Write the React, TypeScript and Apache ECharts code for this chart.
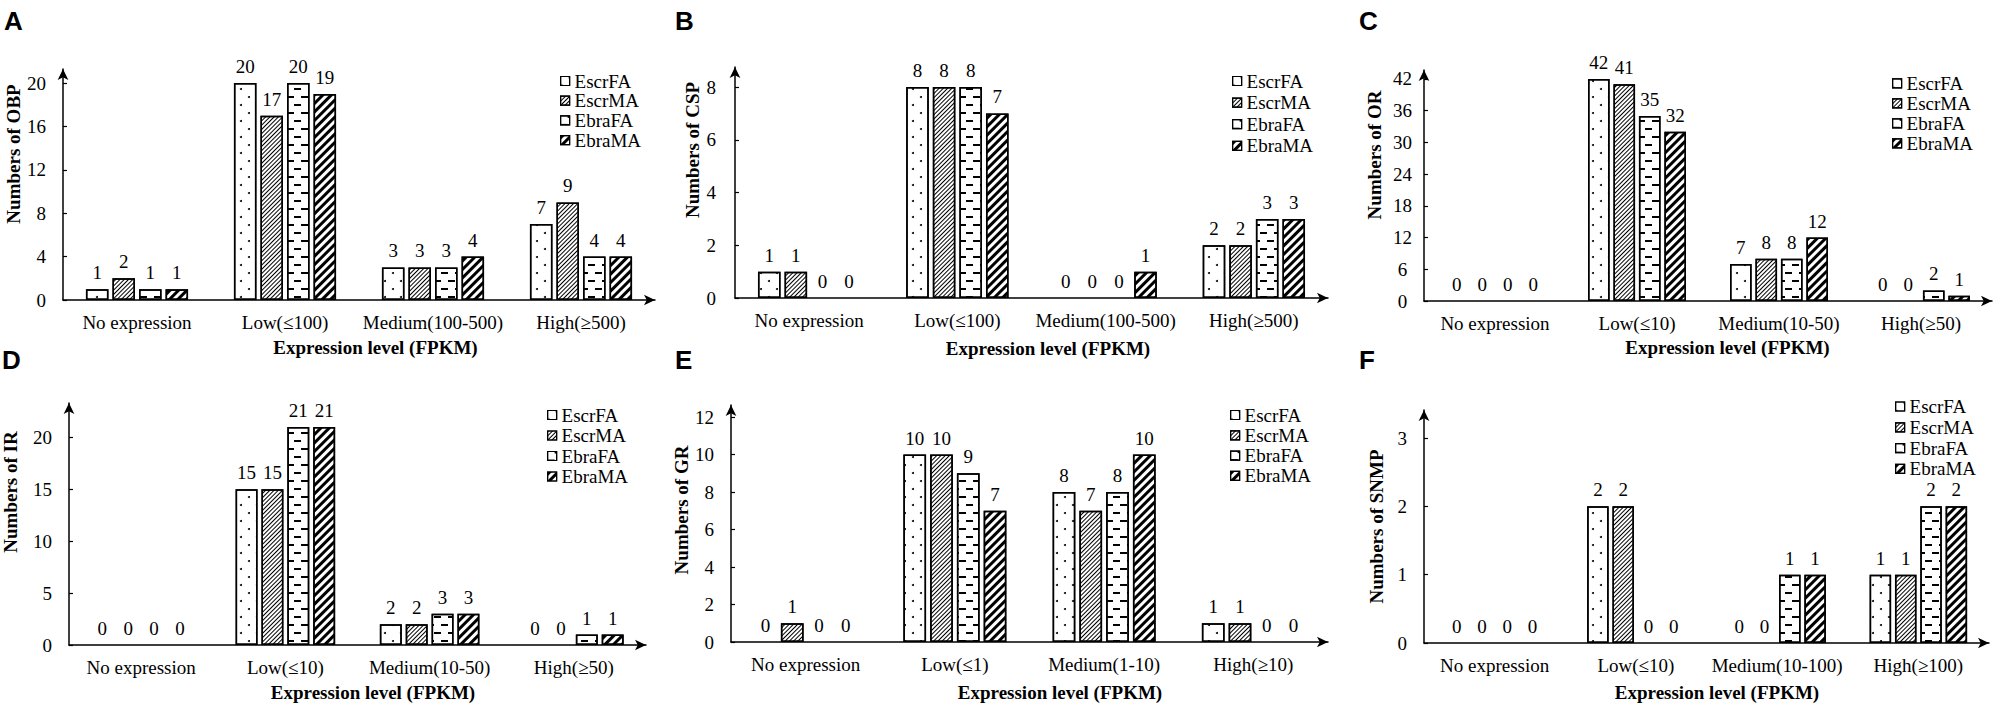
import React, { useEffect, useRef } from "react";
import * as echarts from "echarts";

// ---------- data ----------
const seriesNames = ["EscrFA", "EscrMA", "EbraFA", "EbraMA"];

const categoriesOBP = ["No expression", "Low(≤100)", "Medium(100-500)", "High(≥500)"];
const categoriesCSP = ["No expression", "Low(≤100)", "Medium(100-500)", "High(≥500)"];
const categoriesOR = ["No expression", "Low(≤10)", "Medium(10-50)", "High(≥50)"];
const categoriesIR = ["No expression", "Low(≤10)", "Medium(10-50)", "High(≥50)"];
const categoriesGR = ["No expression", "Low(≤1)", "Medium(1-10)", "High(≥10)"];
const categoriesSNMP = ["No expression", "Low(≤10)", "Medium(10-100)", "High(≥100)"];

const obpEscrFA = [1, 20, 3, 7];
const obpEscrMA = [2, 17, 3, 9];
const obpEbraFA = [1, 20, 3, 4];
const obpEbraMA = [1, 19, 4, 4];

const cspEscrFA = [1, 8, 0, 2];
const cspEscrMA = [1, 8, 0, 2];
const cspEbraFA = [0, 8, 0, 3];
const cspEbraMA = [0, 7, 1, 3];

const orEscrFA = [0, 42, 7, 0];
const orEscrMA = [0, 41, 8, 0];
const orEbraFA = [0, 35, 8, 2];
const orEbraMA = [0, 32, 12, 1];

const irEscrFA = [0, 15, 2, 0];
const irEscrMA = [0, 15, 2, 0];
const irEbraFA = [0, 21, 3, 1];
const irEbraMA = [0, 21, 3, 1];

const grEscrFA = [0, 10, 8, 1];
const grEscrMA = [1, 10, 7, 1];
const grEbraFA = [0, 9, 8, 0];
const grEbraMA = [0, 7, 10, 0];

const snmpEscrFA = [0, 2, 0, 1];
const snmpEscrMA = [0, 2, 0, 1];
const snmpEbraFA = [0, 0, 1, 2];
const snmpEbraMA = [0, 0, 1, 2];

const yAxisNames = [
  "Numbers of OBP",
  "Numbers of CSP",
  "Numbers of OR",
  "Numbers of IR",
  "Numbers of GR",
  "Numbers of SNMP",
];
const xAxisName = "Expression level (FPKM)";
const panelLetters = ["A", "B", "C", "D", "E", "F"];
const yTickIntervals = [4, 2, 6, 5, 2, 1];

const panelCategories = [
  categoriesOBP,
  categoriesCSP,
  categoriesOR,
  categoriesIR,
  categoriesGR,
  categoriesSNMP,
];
const panelValues = [
  [obpEscrFA, obpEscrMA, obpEbraFA, obpEbraMA],
  [cspEscrFA, cspEscrMA, cspEbraFA, cspEbraMA],
  [orEscrFA, orEscrMA, orEbraFA, orEbraMA],
  [irEscrFA, irEscrMA, irEbraFA, irEbraMA],
  [grEscrFA, grEscrMA, grEbraFA, grEbraMA],
  [snmpEscrFA, snmpEscrMA, snmpEbraFA, snmpEbraMA],
];

// ---------- layout / style ----------
const layouts = [
  { left: 63, top: 69, width: 592, height: 231, max: 21.3, labelMargin: 17, labelAlign: "right", yGap: 39.5, yPad: 61, xGap: 37.5, xPad: 33, legendLeft: 560, legendTop: 71.5, legendGap: 0.7, letterX: 4, letterY: 8 },
  { left: 735, top: 67, width: 593, height: 231, max: 8.76, labelMargin: 19, labelAlign: "right", yGap: 33, yPad: 65, xGap: 40.5, xPad: 33, legendLeft: 1232, legendTop: 71.5, legendGap: 2.6, letterX: 675, letterY: 8 },
  { left: 1424, top: 70, width: 568, height: 231, max: 43.7, labelMargin: 21.5, labelAlign: "center", yGap: 40.5, yPad: 61, xGap: 36.5, xPad: 39, legendLeft: 1892, legendTop: 73.8, legendGap: 1, letterX: 1359, letterY: 8 },
  { left: 69, top: 403, width: 577, height: 242, max: 23.3, labelMargin: 17, labelAlign: "right", yGap: 49, yPad: 64, xGap: 37.5, xPad: 31, legendLeft: 547, legendTop: 405.5, legendGap: 1.5, letterX: 2, letterY: 347 },
  { left: 731, top: 405, width: 597, height: 237, max: 12.64, labelMargin: 17, labelAlign: "right", yGap: 38, yPad: 27, xGap: 40.5, xPad: 61, legendLeft: 1230, legendTop: 405.5, legendGap: 1.3, letterX: 675, letterY: 347 },
  { left: 1424, top: 410, width: 565, height: 233, max: 3.41, labelMargin: 17, labelAlign: "right", yGap: 38.5, yPad: 0, xGap: 39.5, xPad: 21, legendLeft: 1895, legendTop: 397, legendGap: 1.8, letterX: 1359, letterY: 347 },
];

const SERIF = '"Liberation Serif", "Times New Roman", serif';
const SANS = '"Liberation Sans", Arial, sans-serif';

const decals: any[] = [
  { symbol: "circle", symbolSize: 1, symbolKeepAspect: false, color: "#000", dashArrayX: [[2, 14], [0, 8, 2, 6]], dashArrayY: [2, 6], rotation: 0 },
  { symbol: "rect", symbolSize: 1, symbolKeepAspect: false, color: "#000", dashArrayX: [1, 0], dashArrayY: [1, 2], rotation: -Math.PI / 4 },
  { symbol: "rect", symbolSize: 1, symbolKeepAspect: false, color: "#000", dashArrayX: [[7, 7], [0, 7, 7, 0]], dashArrayY: [2, 6], rotation: 0 },
  { symbol: "rect", symbolSize: 1, symbolKeepAspect: false, color: "#000", dashArrayX: [1, 0], dashArrayY: [3, 3], rotation: -Math.PI / 4 },
];

function buildOption() {
  const grid: any[] = [];
  const xAxis: any[] = [];
  const yAxis: any[] = [];
  const legend: any[] = [];
  const series: any[] = [];
  const graphic: any[] = [];

  layouts.forEach((L, i) => {
    grid.push({ left: L.left, top: L.top, width: L.width, height: L.height, containLabel: false });
    xAxis.push({
      type: "category",
      gridIndex: i,
      data: panelCategories[i],
      axisLine: { show: true, symbol: ["none", "arrow"], symbolSize: [8, 11], lineStyle: { color: "#000", width: 1.5 } },
      axisTick: { show: false },
      axisLabel: { interval: 0, margin: 13, color: "#000", fontFamily: SERIF, fontSize: 19 },
      name: xAxisName,
      nameLocation: "middle",
      nameGap: L.xGap,
      nameTextStyle: { fontFamily: SERIF, fontSize: 19, fontWeight: "bold", color: "#000", padding: [0, 0, 0, L.xPad] },
    });
    yAxis.push({
      type: "value",
      gridIndex: i,
      min: 0,
      max: L.max,
      interval: yTickIntervals[i],
      axisLine: { show: true, symbol: ["none", "arrow"], symbolSize: [8, 11], lineStyle: { color: "#000", width: 1.5 } },
      axisTick: { show: true, inside: true, length: 4, lineStyle: { color: "#000", width: 1.2 } },
      splitLine: { show: false },
      axisLabel: { showMaxLabel: false, margin: L.labelMargin, align: L.labelAlign, color: "#000", fontFamily: SERIF, fontSize: 19 },
      name: yAxisNames[i],
      nameLocation: "middle",
      nameGap: L.yGap,
      nameTextStyle: { fontFamily: SERIF, fontSize: 19, fontWeight: "bold", color: "#000", padding: [0, 0, 0, L.yPad] },
    });
    legend.push({
      orient: "vertical",
      left: L.legendLeft,
      top: L.legendTop,
      padding: 0,
      itemGap: L.legendGap,
      itemWidth: 9,
      itemHeight: 9,
      icon: "rect",
      selectedMode: false,
      data: seriesNames,
      textStyle: { fontFamily: SERIF, fontSize: 19, color: "#000", padding: [0, 0, 0, 0] },
      itemStyle: { borderWidth: 1.2, borderColor: "#000" },
    });
    seriesNames.forEach((name, g) => {
      series.push({
        type: "bar",
        name,
        xAxisIndex: i,
        yAxisIndex: i,
        barGap: "18%",
        barCategoryGap: "31%",
        data: panelValues[i][g].map((v) => (v === 0 ? { value: 0, itemStyle: { borderWidth: 0 } } : v)),
        itemStyle: { color: "#fff", borderColor: "#000", borderWidth: 1.5, decal: decals[g] },
        label: { show: true, position: "top", distance: 7, color: "#000", fontFamily: SERIF, fontSize: 19 },
      });
    });
    graphic.push({
      type: "text",
      left: L.letterX,
      top: L.letterY,
      style: { text: panelLetters[i], font: `bold 26px ${SANS}`, fill: "#000" },
    });
  });

  return {
    animation: false,
    backgroundColor: "#fff",
    textStyle: { fontFamily: SERIF },
    grid,
    xAxis,
    yAxis,
    legend,
    series,
    graphic,
  };
}

export default function App() {
  const ref = useRef<HTMLDivElement>(null);
  useEffect(() => {
    if (!ref.current) return;
    const chart = echarts.init(ref.current, undefined, { renderer: "svg" });
    chart.setOption(buildOption() as any);
    return () => chart.dispose();
  }, []);
  return (
    <div
      ref={ref}
      style={{ position: "absolute", left: 0, top: 0, width: 2000, height: 708, background: "#fff" }}
    />
  );
}
